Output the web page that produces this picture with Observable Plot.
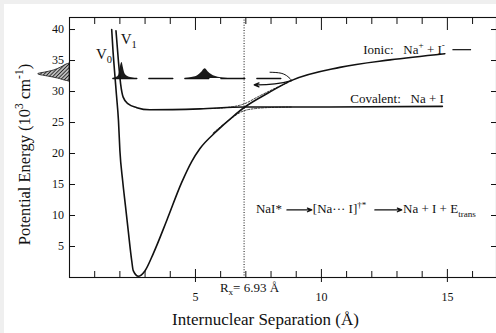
<!DOCTYPE html>
<html><head><meta charset="utf-8">
<script src="https://cdn.jsdelivr.net/npm/d3@7"></script>
<script src="https://cdn.jsdelivr.net/npm/@observablehq/plot@0.6"></script>
<style>
html,body{margin:0;padding:0;background:#efefef;}
#chart{width:496px;height:333px;}
</style></head><body><div id="chart"></div>
<script>
// Ionic diabatic curve V0 (Na+ + I-): separation (Å), energy (10^3 cm^-1)
const ionicR = [1.675, 1.726, 1.786, 1.865, 1.944, 2.00, 2.11, 2.22, 2.33, 2.47, 2.53, 2.73, 3.00, 3.33, 3.86, 4.45, 4.85, 5.18, 5.84, 6.50, 6.96, 7.9, 8.82, 10.73, 12.72, 14.9];
const ionicE = [40.0, 36.6, 33.4, 29.4, 25.3, 20.5, 15.6, 11.6, 7.6, 2.7, 1.1, 0.2, 1.1, 3.9, 9.2, 15.3, 18.7, 20.8, 23.6, 26.0, 27.5, 29.8, 31.8, 33.9, 35.1, 36.1];
// Covalent curve V1 (Na + I)
const covR = [1.845, 1.94, 2.03, 2.13, 2.33, 2.67, 3.19, 5.18, 6.93, 9.15, 14.8];
const covE = [39.8, 35.0, 31.2, 29.1, 28.0, 27.4, 27.05, 27.2, 27.5, 27.5, 27.6];
// thin adiabatic branches near the crossing
const upR = [5.6, 6.3, 6.93, 7.5, 8.2, 8.7];
const upE = [27.25, 27.45, 28.0, 29.2, 30.6, 31.5];
const lowR = [5.7, 6.3, 6.93, 7.5, 8.2, 8.8];
const lowE = [23.3, 25.3, 26.9, 27.3, 27.45, 27.5];
// pump energy level and wavepackets
const probeE = 32.1;
const probeR = [1.72, 8.55];
const pack1R = [1.72, 1.85, 1.95, 2.0, 2.04, 2.09, 2.13, 2.19, 2.28, 2.42, 2.6];
const pack1E = [32.1, 32.25, 32.6, 33.4, 34.3, 34.7, 34.0, 33.0, 32.5, 32.25, 32.1];
const pack2R = [4.6, 4.9, 5.1, 5.25, 5.38, 5.5, 5.65, 5.9, 6.3];
const pack2E = [32.1, 32.3, 32.6, 33.1, 33.66, 33.2, 32.7, 32.3, 32.1];
// laser pulse drawn outside the axis (energy, extent)
const pulseE = [31.61, 31.77, 32.1, 32.42, 32.69, 32.77, 32.85, 33.06, 33.31, 33.63, 34.03, 34.35, 34.52];
const pulseW = [0, -0.18, -0.46, -0.85, -1.2, -1.24, -1.22, -0.97, -0.69, -0.46, -0.26, -0.12, 0];
// hook of the returning packet
const hookR = [7.96, 8.4, 8.67, 8.83];
const hookE = [33.11, 32.95, 32.4, 31.77];
// crossing point
const Rx = 6.93;
// ticks
const xMinor = [1,2,3,4,6,7,8,9,11,12,13,14,16];
const xMajor = [5,10,15];
const yTicks = [5,10,15,20,25,30,35,40];

const zip = (a, b) => a.map((v, i) => ({x: v, y: b[i]}));
const lbl = (text, x, y, o = {}) => Plot.text([{x, y, text}], {x: "x", y: "y", text: "text", lineAnchor: "bottom", textAnchor: "start", fontSize: 13, ...o});
const noText = () => "";

const plot = Plot.plot({
  width: 496, height: 333,
  marginLeft: 69, marginRight: 0, marginTop: 17, marginBottom: 56,
  x: {domain: [0, 16.95]},
  y: {domain: [0, 41.94]},
  style: {fontFamily: "'Liberation Serif', 'Times New Roman', serif", fontSize: "12px", background: "transparent", color: "#111", overflow: "visible"},
  marks: [
    Plot.frame({strokeWidth: 1.1}),
    Plot.axisX({anchor: "bottom", ticks: xMinor, tickSize: -6, tickFormat: noText, label: null}),
    Plot.axisX({anchor: "bottom", ticks: xMajor, tickSize: 5, tickPadding: 10, label: null, fontSize: 12}),
    Plot.axisX({anchor: "bottom", ticks: xMajor, tickSize: -8, tickFormat: noText, label: null}),
    Plot.axisX({anchor: "top", ticks: xMinor, tickSize: -6, tickFormat: noText, label: null}),
    Plot.axisX({anchor: "top", ticks: xMajor, tickSize: -12, tickFormat: noText, label: null}),
    Plot.axisY({anchor: "left", ticks: yTicks, tickSize: -6, tickPadding: 11.5, label: null, fontSize: 12}),
    Plot.axisY({anchor: "right", ticks: yTicks, tickSize: -6, tickFormat: noText, label: null}),
    // Rx dotted line
    Plot.ruleX([{x: Rx}], {x: "x", strokeDasharray: "1,1.6", strokeWidth: 1}),
    // laser pulse
    Plot.areaX(pulseE.map((e, i) => ({e, w: pulseW[i]})), {y: "e", x1: "w", x2: () => 0, fill: "url(#hatch)", stroke: "#111", strokeWidth: 0.8, curve: "monotone-y"}),
    // probe level dashed
    Plot.line(probeR.map(r => ({x: r, y: probeE})), {x: "x", y: "y", strokeDasharray: "24,12", strokeWidth: 1.3}),
    // wavepackets
    Plot.areaY(zip(pack1R, pack1E), {x: "x", y1: () => probeE, y2: "y", fill: "#1a1a1a", curve: "monotone-x"}),
    Plot.areaY(zip(pack2R, pack2E), {x: "x", y1: () => probeE, y2: "y", fill: "#1a1a1a", curve: "monotone-x"}),
    // thin adiabats
    Plot.line(zip(upR, upE), {x: "x", y: "y", strokeWidth: 0.8, strokeDasharray: "2,1.5", curve: "monotone-x"}),
    Plot.line(zip(lowR, lowE), {x: "x", y: "y", strokeWidth: 0.8, strokeDasharray: "2,1.5", curve: "monotone-x"}),
    // main curves
    Plot.line(zip(ionicR, ionicE), {x: "x", y: "y", strokeWidth: 1.6, curve: "monotone-x"}),
    Plot.line(zip(covR, covE), {x: "x", y: "y", strokeWidth: 1.6, curve: "monotone-x"}),
    // hook and return arrow
    Plot.line(zip(hookR, hookE), {x: "x", y: "y", strokeWidth: 1, curve: "natural"}),
    Plot.arrow([{x1: 8.82, y1: 31.77, x2: 7.33, y2: 31.08}], {x1: "x1", y1: "y1", x2: "x2", y2: "y2", bend: 8, headLength: 6, headAngle: 45, strokeWidth: 1.3}),
    // ionic label dash
    Plot.ruleY([{y: 36.75, x1: 15.22, x2: 15.96}], {y: "y", x1: "x1", x2: "x2", strokeWidth: 1.2}),
    // labels
    lbl("Ionic:\u00a0\u00a0\u00a0Na^{+} + I^{-}", 14.9, 36.1, {textAnchor: "end"}),
    lbl("Covalent:\u00a0\u00a0\u00a0Na + I", 14.86, 28.1, {textAnchor: "end"}),
    lbl("V_{0}", 1.05, 35.3, {fontSize: 15}),
    lbl("V_{1}", 2.03, 37.7, {fontSize: 15}),
    lbl("R_{x}= 6.93 Å", 5.97, -2.26),
    lbl("NaI*", 7.40, 10.37),
    Plot.arrow([{x1: 8.63, x2: 9.62, y: 10.9}], {x1: "x1", x2: "x2", y1: "y", y2: "y", headLength: 6, headAngle: 45, strokeWidth: 1.2}),
    lbl("[Na··· I]^{†*}", 9.66, 10.37),
    Plot.arrow([{x1: 12.12, x2: 13.19, y: 10.9}], {x1: "x1", x2: "x2", y1: "y", y2: "y", headLength: 6, headAngle: 45, strokeWidth: 1.2}),
    lbl("Na + I + E_{trans}", 13.24, 10.37),
    lbl("Internuclear Separation (Å)", 7.78, -7.74, {textAnchor: "middle", fontSize: 17}),
    lbl("Potential Energy (10^{3} cm^{-1})", -1.57, 19.84, {textAnchor: "middle", fontSize: 16.5, rotate: -90})
  ]
});

document.getElementById("chart").appendChild(plot);

// background panel and hatch pattern
const NS = "http://www.w3.org/2000/svg";
const defs = document.createElementNS(NS, "defs");
defs.innerHTML = '<pattern id="hatch" patternUnits="userSpaceOnUse" width="2.6" height="2.6" patternTransform="rotate(45)"><rect width="2.6" height="2.6" fill="#bbb"/><line x1="0" y1="0" x2="0" y2="2.6" stroke="#111" stroke-width="1.5"/></pattern>';
plot.insertBefore(defs, plot.firstChild);
const bg = document.createElementNS(NS, "rect");
bg.setAttribute("x", 4); bg.setAttribute("y", 4);
bg.setAttribute("width", 492); bg.setAttribute("height", 329);
bg.setAttribute("fill", "#ffffff");
plot.insertBefore(bg, defs.nextSibling);

// rich text: ^{..} superscript, _{..} subscript
function richify(svg) {
  svg.querySelectorAll("text").forEach(t => {
    const s = t.textContent;
    if (!/[_^]\{/.test(s)) return;
    const fs = parseFloat(getComputedStyle(t).fontSize);
    while (t.firstChild) t.removeChild(t.firstChild);
    const re = /([_^])\{([^}]*)\}/g;
    let last = 0, m, shift = 0;
    const add = (str, kind) => {
      const ts = document.createElementNS(NS, "tspan");
      const target = kind === "_" ? 0.3 * fs : kind === "^" ? -0.42 * fs : 0;
      const dy = target - shift;
      if (dy) ts.setAttribute("dy", dy);
      shift = target;
      if (kind) ts.setAttribute("font-size", 0.7 * fs);
      ts.textContent = str;
      t.appendChild(ts);
    };
    while ((m = re.exec(s))) {
      if (m.index > last) add(s.slice(last, m.index), null);
      add(m[2], m[1]);
      last = re.lastIndex;
    }
    if (last < s.length) add(s.slice(last), null);
  });
}
richify(plot);
</script></body></html>
